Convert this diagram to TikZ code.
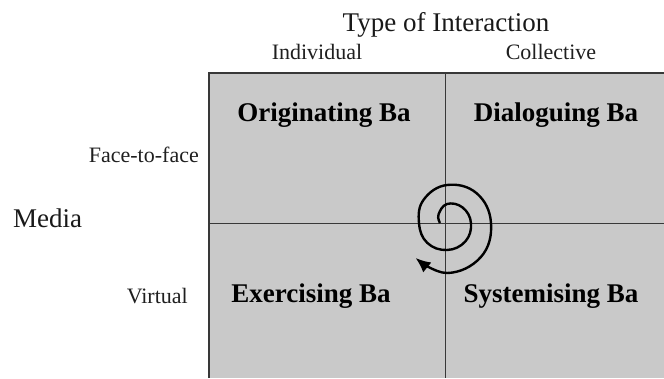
\documentclass[tikz,border=0pt]{standalone}
\usepackage{fontspec}
\setmainfont{Liberation Serif}
\usepackage{tikz}
\usetikzlibrary{positioning, calc, arrows.meta}
\definecolor{bagray}{rgb}{0.79, 0.79, 0.79}
\definecolor{linegray}{rgb}{0.22, 0.22, 0.22}

\begin{document}
\begin{tikzpicture}[x=1pt, y=-1pt,
  axislabel/.style={font=\fontsize{27}{30}\selectfont, text=black!90, inner sep=0pt},
  sublabel/.style={font=\fontsize{22}{24}\selectfont, text=black!88, inner sep=0pt},
  balabel/.style={font=\fontsize{27}{30}\selectfont\bfseries, text=black, inner sep=0pt}]
\useasboundingbox (0,0) rectangle (664,378);
\pgfmathsetmacro{\boxl}{209}
\pgfmathsetmacro{\boxt}{73}
\pgfmathsetmacro{\midx}{445}
\pgfmathsetmacro{\midy}{223}
\fill[bagray] (\boxl,\boxt) rectangle (664,378);
\draw[linegray, line width=1.4pt] (\boxl,378) -- (\boxl,\boxt) -- (664,\boxt);
\draw[linegray, line width=1pt] (\midx,\boxt) -- (\midx,378);
\draw[linegray, line width=1pt] (\boxl,\midy) -- (664,\midy);

\node[axislabel] (title) at (446,25) {Type of Interaction};
\node[sublabel] (indiv) at (317,52) {Individual};
\node[sublabel] (collect) at (551,52) {Collective};
\node[axislabel, anchor=west] (media) at (13,218) {Media};
\node[sublabel, anchor=east] (ftf) at (199,155) {Face-to-face};
\node[sublabel, anchor=east] (virtual) at (188,296) {Virtual};

\node[balabel] (orig) at (324,115) {Originating Ba};
\node[balabel] (dialog) at (556,115) {Dialoguing Ba};
\node[balabel] (exer) at (311,296) {Exercising Ba};
\node[balabel] (syst) at (551,296) {Systemising Ba};

\draw[black, line width=2.4pt, -{Latex[length=15pt, width=13pt]}, shift={(447,223)}]
  plot[smooth, tension=0.7] coordinates {(-180:7) (-135:12) (-90:19) (-45:22) (0:24) (45:26)
  (90:27) (135:28) (180:28) (225:33) (270:38) (315:42) (360:44) (405:48) (450:50) (492:47)};
\end{tikzpicture}
\end{document}
